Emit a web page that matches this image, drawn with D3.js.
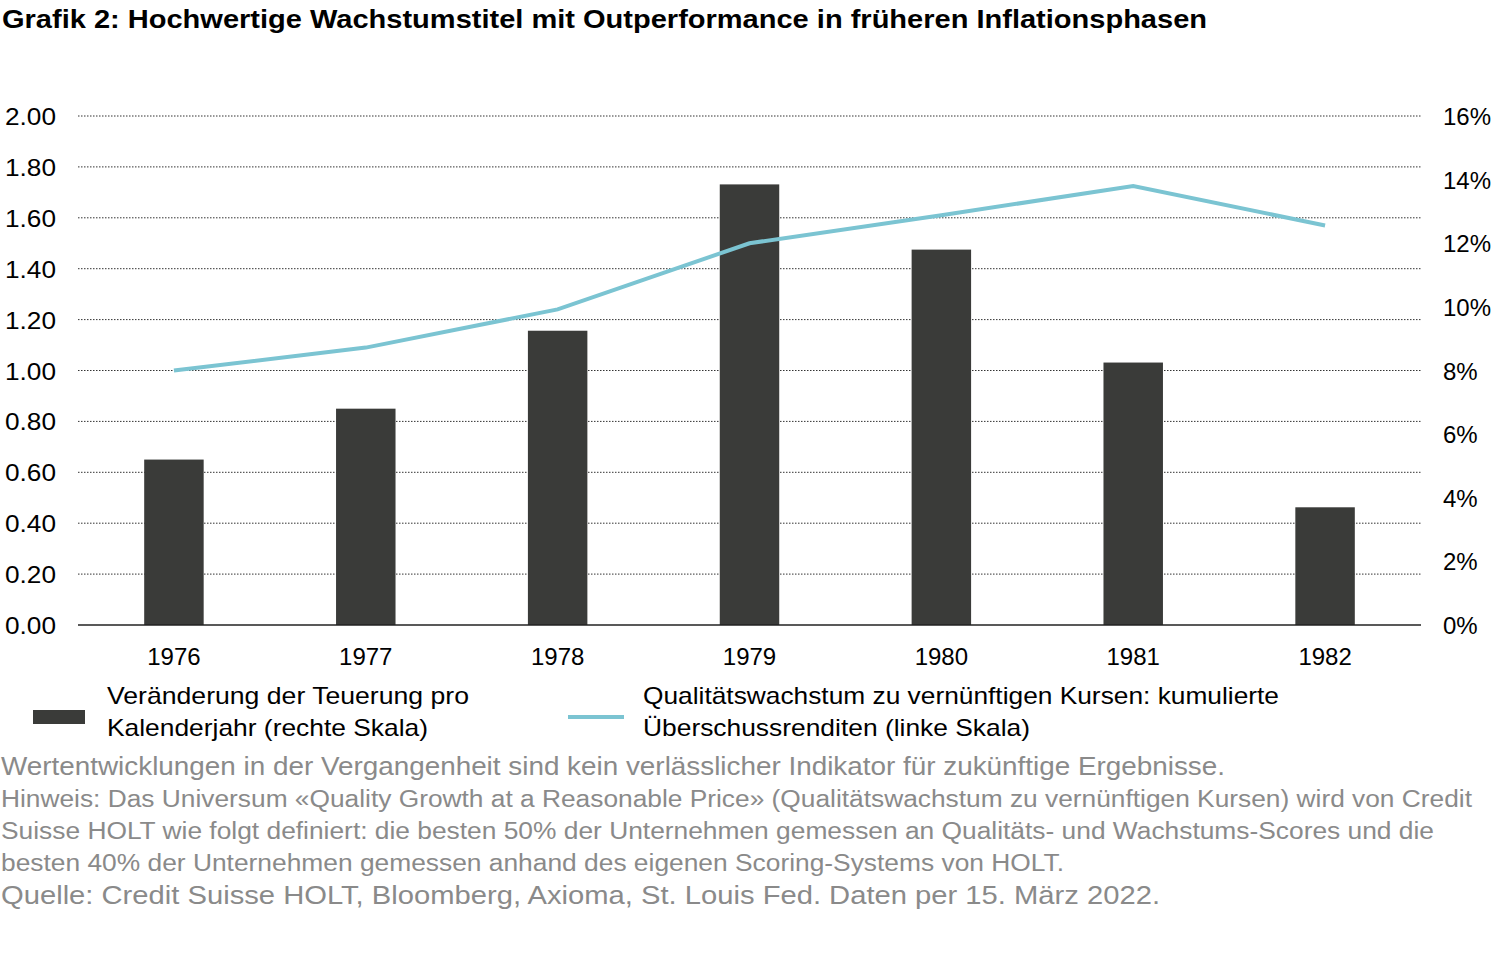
<!DOCTYPE html>
<html><head><meta charset="utf-8">
<script src="https://cdn.jsdelivr.net/npm/d3@7"></script>
<style>body{margin:0;background:#fff;font-family:"Liberation Sans",Arial,sans-serif}</style>
</head><body><svg id="c" width="1500" height="965"></svg>
<script>
const years=["1976","1977","1978","1979","1980","1981","1982"];
const inflation=[5.2,6.8,9.25,13.85,11.8,8.25,3.7];
const qgarp=[1.00,1.09,1.24,1.50,1.61,1.725,1.57];
const leftTicks=[0,0.2,0.4,0.6,0.8,1.0,1.2,1.4,1.6,1.8,2.0];
const rightTicks=[0,2,4,6,8,10,12,14,16];
const footer=["Wertentwicklungen in der Vergangenheit sind kein verlässlicher Indikator für zukünftige Ergebnisse.",
"Hinweis: Das Universum «Quality Growth at a Reasonable Price» (Qualitätswachstum zu vernünftigen Kursen) wird von Credit",
"Suisse HOLT wie folgt definiert: die besten 50% der Unternehmen gemessen an Qualitäts- und Wachstums-Scores und die",
"besten 40% der Unternehmen gemessen anhand des eigenen Scoring-Systems von HOLT.",
"Quelle: Credit Suisse HOLT, Bloomberg, Axioma, St. Louis Fed. Daten per 15. März 2022."];
const footerW=[1225,1472,1434,1064,1160];
const svg=d3.select("#c");
const L=78,R=1421,T=116,B=625;
const x=d3.scaleBand().domain(years).range([L,R]).paddingInner(0.69).paddingOuter(0.345);
const yl=d3.scaleLinear().domain([0,2]).range([B,T]);
const yr=d3.scaleLinear().domain([0,16]).range([B,T]);
function t(xx,yy,s,txt,w){const e=svg.append("text").attr("x",xx).attr("y",yy).attr("font-size",s).text(txt);if(w)e.attr("textLength",w).attr("lengthAdjust","spacingAndGlyphs");return e;}
t(2,28,25,"Grafik 2: Hochwertige Wachstumstitel mit Outperformance in früheren Inflationsphasen",1205).attr("font-weight","bold");
svg.append("g").selectAll("line").data(leftTicks.slice(1)).join("line")
 .attr("x1",L).attr("x2",R).attr("y1",d=>yl(d)).attr("y2",d=>yl(d))
 .attr("stroke","#333").attr("stroke-width",1).attr("stroke-dasharray","1.5,1.5");
svg.append("g").selectAll("rect").data(inflation).join("rect")
 .attr("x",(d,i)=>x(years[i])).attr("width",x.bandwidth()).attr("y",d=>yr(d)).attr("height",d=>B-yr(d)).attr("fill","#3a3b39");
svg.append("line").attr("x1",L).attr("x2",R).attr("y1",B).attr("y2",B).attr("stroke","#222").attr("stroke-width",1.5);
svg.append("path").datum(qgarp).attr("fill","none").attr("stroke","#7bc4d2").attr("stroke-width",4)
 .attr("d",d3.line().x((d,i)=>x(years[i])+x.bandwidth()/2).y(d=>yl(d)));
svg.append("g").selectAll("text").data(leftTicks).join("text").attr("x",5).attr("y",d=>yl(d)+9).attr("font-size",24).attr("textLength",51).attr("lengthAdjust","spacingAndGlyphs").text(d=>d.toFixed(2));
svg.append("g").selectAll("text").data(rightTicks).join("text").attr("x",1443).attr("y",d=>yr(d)+9).attr("font-size",24).text(d=>d+"%");
svg.append("g").selectAll("text").data(years).join("text").attr("x",d=>x(d)+x.bandwidth()/2).attr("y",665).attr("text-anchor","middle").attr("font-size",24).text(d=>d);
svg.append("rect").attr("x",33).attr("y",710).attr("width",52).attr("height",14).attr("fill","#3a3b39");
t(107,704,24,"Veränderung der Teuerung pro",362);
t(107,736,24,"Kalenderjahr (rechte Skala)",321);
svg.append("line").attr("x1",568).attr("x2",624).attr("y1",717).attr("y2",717).attr("stroke","#7bc4d2").attr("stroke-width",4);
t(643,704,24,"Qualitätswachstum zu vernünftigen Kursen: kumulierte",636);
t(643,736,24,"Überschussrenditen (linke Skala)",387);
footer.forEach((d,i)=>t(1,[775,807,839,871,904][i],(i==0||i==4)?25:23.5,d,footerW[i]-1).attr("fill","#8a8a8a"));
</script></body></html>
